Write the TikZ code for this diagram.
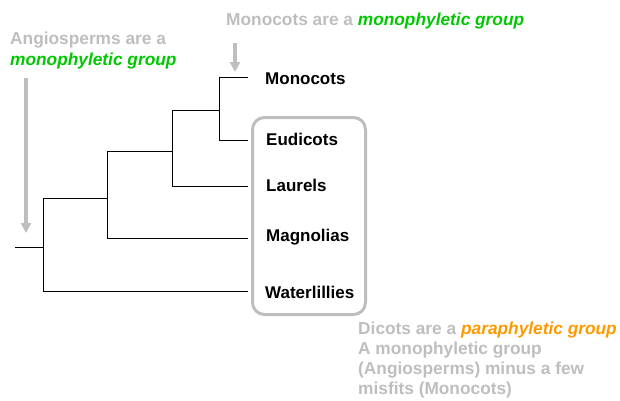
\documentclass[tikz,border=0pt]{standalone}
\usepackage{fontspec}
\setmainfont{Liberation Sans}
\usetikzlibrary{arrows.meta}
\definecolor{lgray}{RGB}{190,190,190}
\definecolor{mgreen}{RGB}{0,200,0}
\definecolor{morange}{RGB}{255,153,0}
\begin{document}
\begin{tikzpicture}[x=1pt,y=-1pt,
  branch/.style={line width=1pt,black},
  taxon/.style={anchor=west,inner sep=0pt,font=\bfseries\fontsize{17}{20}\selectfont},
  note/.style={anchor=west,inner sep=0pt,text=lgray,font=\bfseries\fontsize{17.3}{20}\selectfont},
  callout/.style={line width=3.5pt,lgray,-{Triangle[width=10pt,length=10pt]}},
  grp/.style={draw=lgray,line width=3pt,rounded corners=12pt,inner sep=0pt}]
\useasboundingbox (0,0) rectangle (620,400);
% tree coordinates
\coordinate (r0) at (15,247);
\coordinate (r) at (43,247);
\coordinate (n1) at (107,198);
\coordinate (n2) at (172,151);
\coordinate (n3) at (219,110);
\coordinate (tMo) at (248,77);
\coordinate (tEu) at (248,140);
\coordinate (tLa) at (248,186);
\coordinate (tMa) at (248,238);
\coordinate (tWa) at (248,291);
\draw[branch] (r0) -- (r);
\draw[branch] (r |- n1) -- (r |- tWa) -- (tWa);
\draw[branch] (r |- n1) -- (n1);
\draw[branch] (n1 |- n2) -- (n1 |- tMa) -- (tMa);
\draw[branch] (n1 |- n2) -- (n2);
\draw[branch] (n2 |- n3) -- (n2 |- tLa) -- (tLa);
\draw[branch] (n2 |- n3) -- (n3);
\draw[branch] (tMo) -- (n3 |- tMo) -- (n3 |- tEu) -- (tEu);
% taxa
\node[taxon] (Mo) at (265,79) {Monocots};
\node[taxon] (Eu) at (266,139) {Eudicots};
\node[taxon] (La) at (266,185) {Laurels};
\node[taxon] (Ma) at (266,237) {Magnolias};
\node[taxon] (Wa) at (265,292) {Waterlillies};
% group box
\node[grp,minimum width=113pt,minimum height=197pt,anchor=north west] (box) at (251,116) {};
% notes
\node[note] (mnote) at (226,21) {Monocots are a \textcolor{mgreen}{\itshape monophyletic group}};
\node[note] (anote1) at (10,40) {Angiosperms are a};
\node[note] (anote2) at (10,61) {\textcolor{mgreen}{\itshape monophyletic group}};
\coordinate (ma0) at (235,43);
\coordinate (ma1) at (235,72);
\coordinate (aa0) at (26,78);
\coordinate (aa1) at (26,233);
\draw[callout] (ma0) -- (ma1);
\draw[callout] (aa0) -- (aa1);
\node[note] (d1) at (358,330) {Dicots are a \textcolor{morange}{\itshape paraphyletic group}};
\node[note] (d2) at (358,350) {A monophyletic group};
\node[note] (d3) at (358,370) {(Angiosperms) minus a few};
\node[note] (d4) at (358,390) {misfits (Monocots)};
\end{tikzpicture}
\end{document}
